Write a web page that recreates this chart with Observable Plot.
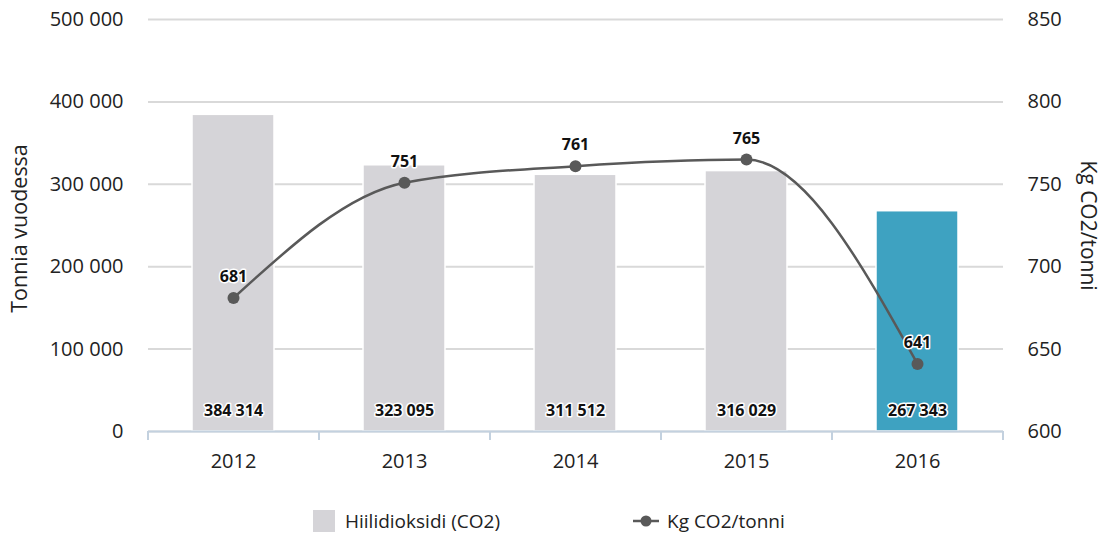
<!DOCTYPE html>
<html><head><meta charset="utf-8">
<script src="https://cdn.jsdelivr.net/npm/d3@7"></script>
<script src="https://cdn.jsdelivr.net/npm/@observablehq/plot@0.6"></script>
<style>
body{margin:0;background:#fff;font-family:"Open Sans",sans-serif;}
#wrap{position:relative;width:1102px;height:538px;}
#legend{position:absolute;left:0;top:508px;width:1102px;height:26px;font-size:19px;color:#222;}
.li{position:absolute;top:0;display:flex;align-items:center;height:26px;}
</style></head><body>
<div id="wrap"><div id="chart"></div>
<div id="legend">
  <div class="li" style="left:313px"><span style="display:inline-block;width:22px;height:22px;background:#d5d4d8;margin-right:10px"></span>Hiilidioksidi (CO2)</div>
  <div class="li" style="left:633px"><svg width="26" height="14" style="margin-right:8px"><line x1="0" y1="7" x2="26" y2="7" stroke="#595959" stroke-width="2.5"/><circle cx="13" cy="7" r="5.5" fill="#595959"/></svg>Kg CO2/tonni</div>
</div></div>
<script>
const years = ["2012","2013","2014","2015","2016"];
const co2Tonnes = [384314, 323095, 311512, 316029, 267343];
const kgPerTonne = [681, 751, 761, 765, 641];
const leftTicks = [0, 100000, 200000, 300000, 400000, 500000];
const rightTicks = [600, 650, 700, 750, 800, 850];
const barColors = ["#d5d4d8","#d5d4d8","#d5d4d8","#d5d4d8","#3ea2c1"];

const rows = years.map((y,i)=>({year:y, co2:co2Tonnes[i], kg:kgPerTonne[i], color:barColors[i]}));
const toLeft = v => (v - 600) / 250 * 500000;
const fmt = v => d3.format(",")(v).replace(/,/g, " ");

const W = 1102, H = 490, mL = 148, mR = 99;
const step = (W - mL - mR) / years.length;

const chart = Plot.plot({
  width: W, height: H,
  marginLeft: mL, marginRight: mR, marginTop: 19, marginBottom: H - 431,
  style: {fontFamily: '"Open Sans", sans-serif', fontSize: "20px", color: "#222", background: "#fff"},
  x: {type: "band", domain: years, paddingInner: 0.52, paddingOuter: 0.26, label: null},
  y: {domain: [0, 500000], label: null},
  marks: [
    Plot.gridY(leftTicks, {stroke: "#d9d9d9", strokeOpacity: 1, strokeWidth: 2}),
    Plot.axisY(leftTicks, {anchor: "left", tickSize: 0, tickPadding: 25, tickFormat: fmt, label: null, fontSize: 20}),
    Plot.axisY(leftTicks, {anchor: "right", tickSize: 0, tickPadding: 24, tickFormat: d => String(600 + d / 2000), label: null, fontSize: 20}),
    Plot.barY(rows, {x: "year", y: "co2", fill: "color", stroke: "white", strokeWidth: 1.5}),
    Plot.ruleY([0], {stroke: "#c3d1df", strokeWidth: 2}),
    Plot.ruleX(rows, {x: "year", dx: -step/2, y1: 0, y2: -11000, stroke: "#c3d1df", strokeWidth: 2}),
    Plot.ruleX(rows.slice(-1), {x: "year", dx: step/2, y1: 0, y2: -11000, stroke: "#c3d1df", strokeWidth: 2}),
    Plot.axisX({tickSize: 0, tickPadding: 22, label: null, fontSize: 20}),
    Plot.lineY(rows, {x: "year", y: d => toLeft(d.kg), curve: "monotone-x", stroke: "#595959", strokeWidth: 2.5}),
    Plot.dot(rows, {x: "year", y: d => toLeft(d.kg), r: 6, fill: "#595959"}),
    Plot.text(rows, {x: "year", y: d => toLeft(d.kg), text: d => String(d.kg), dy: -21, fontSize: 16, fontWeight: "bold", fill: "#111", stroke: "white", strokeWidth: 3}),
    Plot.text(rows, {x: "year", y: 0, text: d => fmt(d.co2), dy: -21, fontSize: 16, fontWeight: "bold", fill: "#111", stroke: "white", strokeWidth: 3}),
    Plot.text(["Tonnia vuodessa"], {frameAnchor: "left", textAnchor: "middle", dx: -128, dy: 3, rotate: -90, fontSize: 21.5, fill: "#222"}),
    Plot.text(["Kg CO2/tonni"], {frameAnchor: "right", textAnchor: "middle", dx: 84, rotate: 90, fontSize: 21, fill: "#222"})
  ]
});
document.getElementById("chart").appendChild(chart);
</script></body></html>
